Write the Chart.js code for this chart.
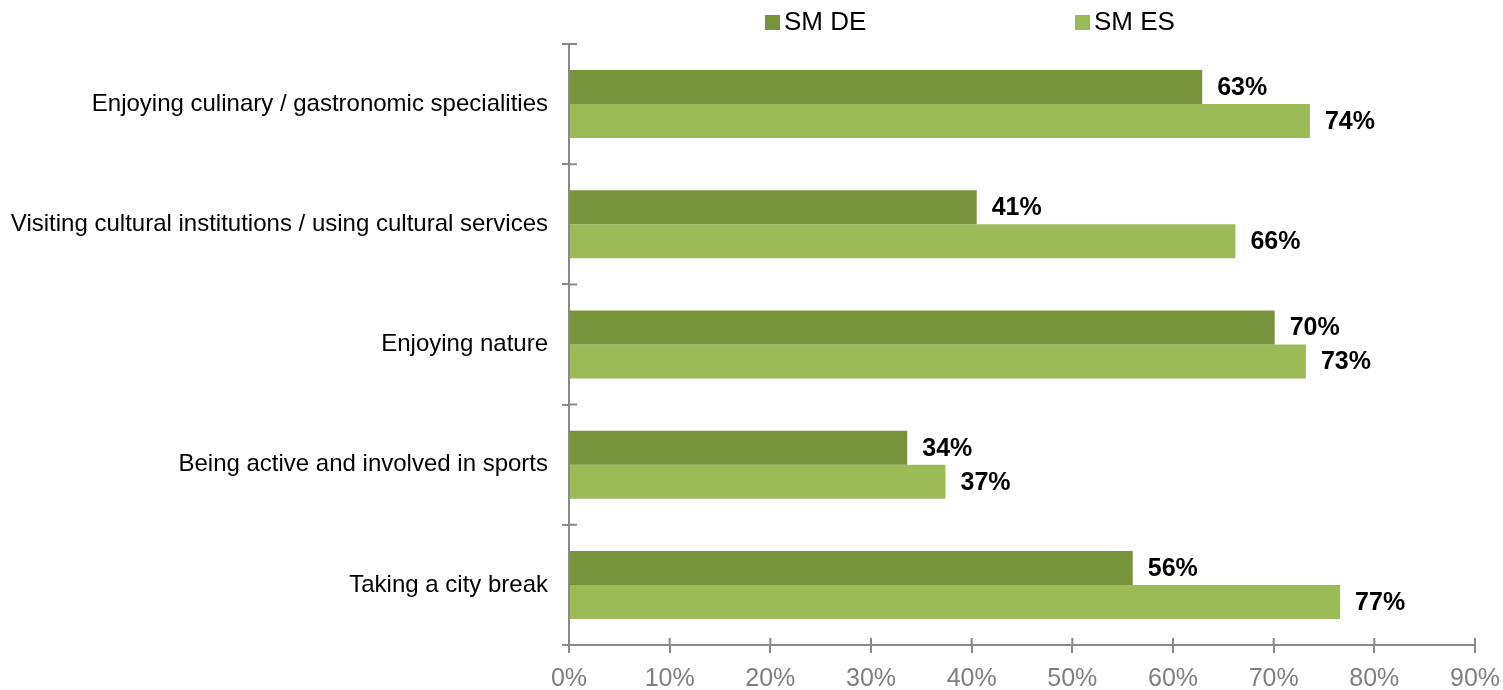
<!DOCTYPE html>
<html>
<head>
<meta charset="utf-8">
<script src="https://cdn.jsdelivr.net/npm/chart.js@4"></script>
<style>
  body { margin: 0; background: #fff; }
  #wrap { position: relative; width: 1503px; height: 690px; }
  .leg { position: absolute; top: 7px; font: 26px Arial, "Liberation Sans", sans-serif; color: #000; line-height: 28px; }
  .leg i { display: inline-block; width: 15px; height: 15px; margin-right: 4px; vertical-align: 0px; }
</style>
</head>
<body>
<div id="wrap">
  <canvas id="chart" width="1503" height="690"></canvas>
  <div class="leg" style="left:765px"><i style="background:#77933C"></i>SM DE</div>
  <div class="leg" style="left:1075px"><i style="background:#9BBB59"></i>SM ES</div>
</div>
<script>
// categories and values
const categories = [
    'Enjoying culinary / gastronomic specialities',
    'Visiting cultural institutions / using cultural services',
    'Enjoying nature',
    'Being active and involved in sports',
    'Taking a city break'
];
const smDE = [62.9, 40.5, 70.1, 33.6, 56.0];
const smES = [73.6, 66.2, 73.2, 37.4, 76.6];
const xTicks = [0, 10, 20, 30, 40, 50, 60, 70, 80, 90];

const font = 'Arial, "Liberation Sans", sans-serif';
const axisGrey = '#898989';

// value labels to the right of each bar
const valueLabels = {
    id: 'valueLabels',
    afterDatasetsDraw(chart) {
        const ctx = chart.ctx;
        ctx.save();
        ctx.font = 'bold 25px ' + font;
        ctx.fillStyle = '#000';
        ctx.textBaseline = 'middle';
        chart.data.datasets.forEach((ds, i) => {
            chart.getDatasetMeta(i).data.forEach((bar, j) => {
                ctx.fillText(Math.round(ds.data[j]) + '%', bar.x + 15, bar.y + 1);
            });
        });
        ctx.restore();
    }
};

// tick marks that cross the axis line (inner half)
const crossTicks = {
    id: 'crossTicks',
    afterDraw(chart) {
        const ctx = chart.ctx;
        const x = chart.scales.x, y = chart.scales.y;
        ctx.save();
        ctx.strokeStyle = axisGrey;
        ctx.lineWidth = 2;
        ctx.beginPath();
        xTicks.forEach(v => {
            const px = x.getPixelForValue(v);
            ctx.moveTo(px, x.top);
            ctx.lineTo(px, x.top - 7);
        });
        for (let i = 0; i <= categories.length; i++) {
            const py = y.top + (y.bottom - y.top) * i / categories.length;
            ctx.moveTo(y.right, py);
            ctx.lineTo(y.right + 8, py);
        }
        ctx.stroke();
        ctx.restore();
    }
};

new Chart(document.getElementById('chart'), {
    type: 'bar',
    data: {
        labels: categories,
        datasets: [
            { label: 'SM DE', data: smDE, backgroundColor: '#77933C', categoryPercentage: 0.566, barPercentage: 1 },
            { label: 'SM ES', data: smES, backgroundColor: '#9BBB59', categoryPercentage: 0.566, barPercentage: 1 }
        ]
    },
    options: {
        indexAxis: 'y',
        responsive: false,
        animation: false,
        layout: { padding: { top: 44, right: 28, left: 0, bottom: 0 } },
        plugins: {
            legend: { display: false },
            tooltip: { enabled: false }
        },
        scales: {
            x: {
                min: 0,
                max: 90,
                afterBuildTicks: (scale) => { scale.ticks = xTicks.map(v => ({ value: v })); },
                afterFit: (scale) => {
                    scale.height = 45;
                    scale.paddingRight = 0;
                    scale.paddingLeft = 0;
                },
                ticks: {
                    callback: v => v + '%',
                    color: '#7f7f7f',
                    font: { size: 25, family: font },
                    padding: 11
                },
                grid: { drawOnChartArea: false, tickLength: 8, color: axisGrey, lineWidth: 2 },
                border: { color: axisGrey, width: 2 }
            },
            y: {
                afterFit: (scale) => { scale.width = 569; },
                ticks: {
                    color: '#000',
                    font: { size: 24, family: font },
                    padding: 14
                },
                grid: { drawOnChartArea: false, offset: true, tickLength: 7, color: axisGrey, lineWidth: 2 },
                border: { color: axisGrey, width: 2 }
            }
        }
    },
    plugins: [valueLabels, crossTicks]
});
</script>
</body>
</html>
